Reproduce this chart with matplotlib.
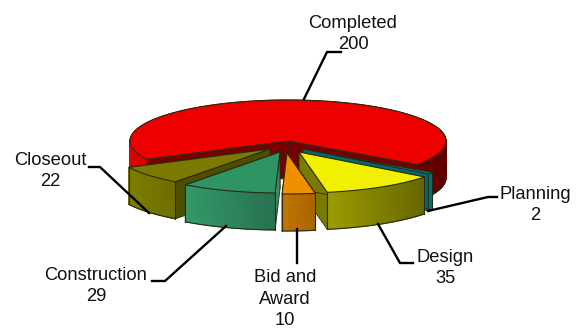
import numpy as np
import matplotlib
matplotlib.use('Agg')
import matplotlib.pyplot as plt
from matplotlib.colors import to_rgb

# pie data, counter clockwise starting from the red slice
labels = ['Completed', 'Closeout', 'Construction', 'Bid and\nAward', 'Design', 'Planning']
values = [200, 22, 29, 10, 35, 2]

START = -35.0
CX, CY = 288, 141
RX, RY = 158, 41
DEPTH = 37

# per slice style, same order as labels
offsets = [(0, 0), (-18, 8), (-8, 11), (-1, 12), (11, 11), (15, 8)]
top_cols = ['#ee0000', '#7a7a00', '#2f9464', '#f09000', '#f0f000', '#0a8a90']
wall_left = ['#e00000', '#7e7e00', '#349a6a', '#c47400', '#9c9c00', '#00808a']
wall_right = ['#5e0000', '#6e6e00', '#267050', '#a86500', '#666600', '#007078']
cut_cols = ['#760000', '#4e4e00', '#3a8a63', '#a86500', '#7a7a00', '#006a70']
draw_order = [0, 5, 1, 2, 4, 3]

# leader lines and label centres
leaders = [[(304, 99), (327, 52), (341, 52)],
           [(149, 213), (100, 167), (89, 167)],
           [(226, 226), (165, 281), (152, 281)],
           [(297, 229), (297, 263)],
           [(378, 224), (400, 263), (413, 263)],
           [(428, 211), (488, 197), (497, 197)]]
text_pos = [(353, 34), (50, 171), (96, 286), (285, 299), (445, 268), (535, 205)]

EDGE = '#2a2a10'


def rim(a, ox, oy, dy=0):
    t = np.radians(a)
    return CX + ox + RX * np.cos(t), CY + oy - RY * np.sin(t) + dy


def draw_slice(ax, i, a0, a1, z):
    ox, oy = offsets[i]
    ang = np.linspace(a0, a1, max(int(a1 - a0) * 2, 8))
    x, y = rim(ang, ox, oy)
    apex = (CX + ox, CY + oy)

    # the two cut faces
    for a in (a0, a1):
        px, py = rim(a, ox, oy)
        ax.fill([apex[0], px, px, apex[0]],
                [apex[1], py, py + DEPTH, apex[1] + DEPTH],
                fc=cut_cols[i], ec=EDGE, lw=0.6, zorder=z)

    # outer wall, strips so it gets a left to right gradient
    c0, c1 = np.array(to_rgb(wall_left[i])), np.array(to_rgb(wall_right[i]))
    for k in range(len(ang) - 1):
        f = ((x[k] + x[k + 1]) / 2 - (x.min())) / (x.max() - x.min())
        col = c0 + (c1 - c0) * f
        ax.fill([x[k], x[k + 1], x[k + 1], x[k]],
                [y[k], y[k + 1], y[k + 1] + DEPTH, y[k] + DEPTH],
                fc=col, ec=col, lw=0.6, zorder=z + 1)
    # wall outline, only the front part
    front = np.sin(np.radians(ang)) < 0
    xf = np.where(front, x, np.nan)
    ax.plot(xf, y + DEPTH, color=EDGE, lw=0.8, zorder=z + 2)
    for a in (a0, a1):
        if np.sin(np.radians(a)) < 0:
            px, py = rim(a, ox, oy)
            ax.plot([px, px], [py, py + DEPTH], color=EDGE, lw=0.8, zorder=z + 2)

    # top face
    ax.fill(np.r_[apex[0], x], np.r_[apex[1], y], fc=top_cols[i], ec=EDGE, lw=0.8, zorder=z + 3)


fig = plt.figure(figsize=(5.82, 3.28), dpi=100)
ax = fig.add_axes([0, 0, 1, 1])
ax.set_xlim(0, 582)
ax.set_ylim(328, 0)
ax.axis('off')

sweep = np.array(values) / sum(values) * 360
edges = START + np.r_[0, np.cumsum(sweep)]

for n, i in enumerate(draw_order):
    draw_slice(ax, i, edges[i], edges[i + 1], 10 + n * 5)

for i, name in enumerate(labels):
    pts = np.array(leaders[i])
    ax.plot(pts[:, 0], pts[:, 1], color='black', lw=1.7, solid_joinstyle='miter', zorder=55)
    ax.text(text_pos[i][0], text_pos[i][1], f'{name}\n{values[i]}', ha='center', va='center',
            fontsize=13.2, family='Liberation Sans', linespacing=1.38, color='#111111', zorder=60)

fig.savefig('out.png', dpi=100)
